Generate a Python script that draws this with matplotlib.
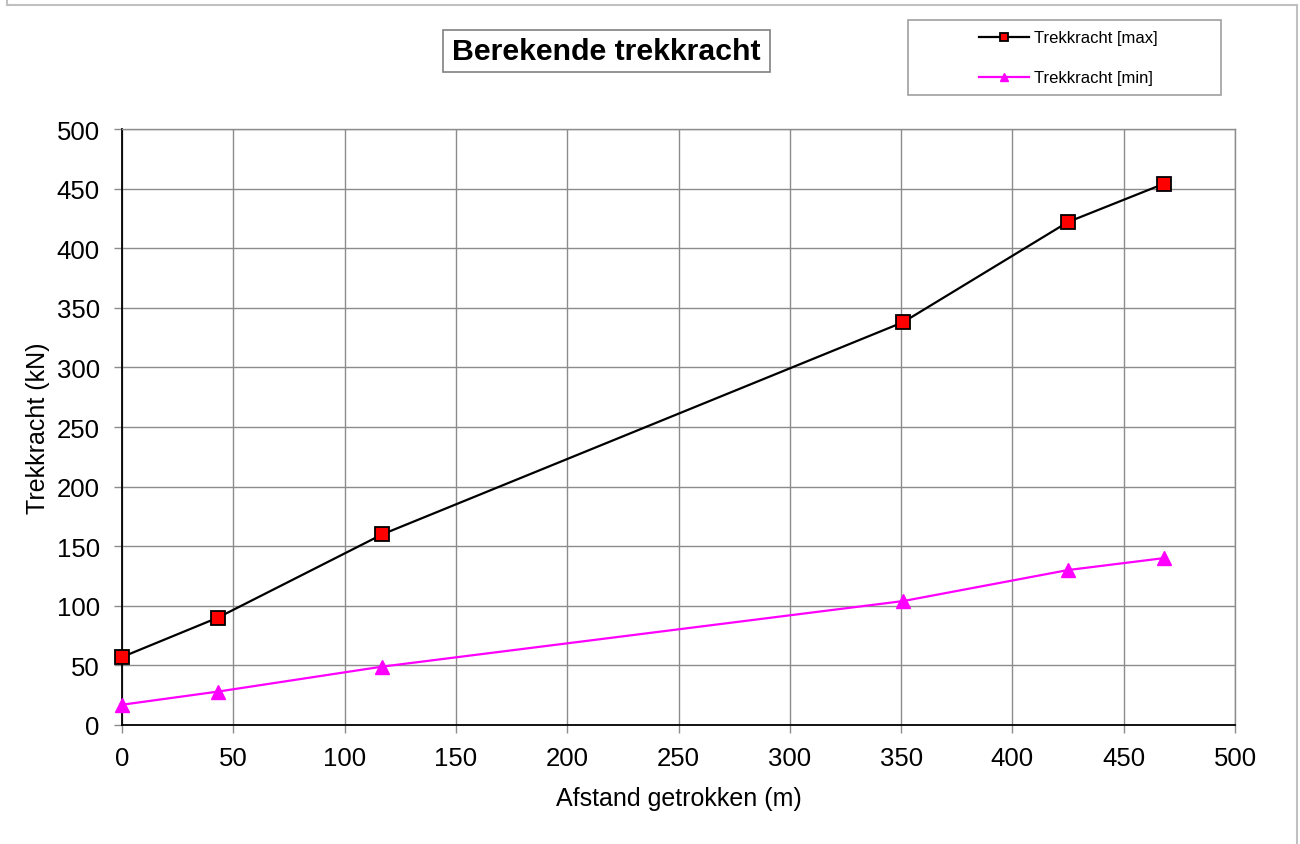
"""Berekende trekkracht: max/min pulling force versus distance pulled."""

import matplotlib
matplotlib.use("Agg")
import matplotlib.pyplot as plt
from matplotlib.lines import Line2D
from matplotlib.patches import Rectangle

plt.rcParams["font.family"] = ["Liberation Sans", "DejaVu Sans"]

# distance pulled (m)
afstand = [0, 43, 117, 351, 425, 468]
# pulling force (kN)
trekkracht_max = [57, 90, 160, 338, 422, 454]
trekkracht_min = [17, 28, 49, 104, 130, 140]

x_ticks = [0, 50, 100, 150, 200, 250, 300, 350, 400, 450, 500]
y_ticks = [0, 50, 100, 150, 200, 250, 300, 350, 400, 450, 500]

W, H = 1300, 845
GRID = "#8c8c8c"

fig = plt.figure(figsize=(W / 100, H / 100), dpi=100)
ax = fig.add_axes([122 / W, 1 - 726 / H, (1235 - 122) / W, (726 - 130) / H])

# chart area border (bottom edge runs off the image)
for xs, ys in [((6.5, 6.5), (-5, 5.5)), ((6.5, 1296.5), (5.5, 5.5)), ((1296.5, 1296.5), (5.5, 850))]:
    fig.add_artist(Line2D([x / W for x in xs], [1 - y / H for y in ys],
                          transform=fig.transFigure, color="#c0c0c0", lw=1.5))

line_max, = ax.plot(afstand, trekkracht_max, color="black", lw=1.6, marker="s", markersize=10,
                    markerfacecolor="#ff0000", markeredgecolor="black", markeredgewidth=1.3,
                    label="Trekkracht [max]", zorder=4, clip_on=False)
line_min, = ax.plot(afstand, trekkracht_min, color="#ff00ff", lw=1.6, marker="^", markersize=10,
                    markerfacecolor="#ff00ff", markeredgecolor="#ff00ff",
                    label="Trekkracht [min]", zorder=3, clip_on=False)

ax.set_xlim(0, 500)
ax.set_ylim(0, 500)
ax.set_xticks(x_ticks)
ax.set_yticks(y_ticks)
ax.grid(True, color=GRID, lw=1.0)
ax.set_axisbelow(True)
ax.tick_params(axis="x", labelsize=18.5, length=6, width=1, color=GRID, pad=9)
ax.tick_params(axis="y", labelsize=18.5, length=6, width=1, color=GRID, pad=10)

for side in ["top", "right"]:
    ax.spines[side].set_color(GRID)
    ax.spines[side].set_linewidth(1.0)
for side in ["left", "bottom"]:
    ax.spines[side].set_color("black")
    ax.spines[side].set_linewidth(1.3)

ax.set_xlabel("Afstand getrokken (m)", fontsize=18, labelpad=12)
ax.set_ylabel("Trekkracht (kN)", fontsize=18, labelpad=5)

# title with its frame
fig.add_artist(Rectangle((443 / W, 1 - 72.5 / H), (770 - 443) / W, (72.5 - 31) / H,
                         transform=fig.transFigure, facecolor="white", edgecolor="#808080", lw=1.2))
fig.text(606.5 / W, 1 - 52 / H, "Berekende trekkracht", fontsize=21.8, fontweight="bold",
         ha="center", va="center")

# legend with its frame
fig.add_artist(Rectangle((908 / W, 1 - 95.5 / H), (1220.5 - 908) / W, (95.5 - 21) / H,
                         transform=fig.transFigure, facecolor="white", edgecolor="#a0a0a0", lw=1.2))
leg = fig.legend(handles=[line_max, line_min], loc="center",
                 bbox_to_anchor=(1068 / W, 1 - 59 / H), bbox_transform=fig.transFigure,
                 frameon=False, fontsize=12, handlelength=3.0, handletextpad=0.3,
                 labelspacing=1.5, borderpad=0, markerscale=0.6)
leg.set_zorder(5)

fig.savefig("out.png", dpi=100, facecolor="white")
